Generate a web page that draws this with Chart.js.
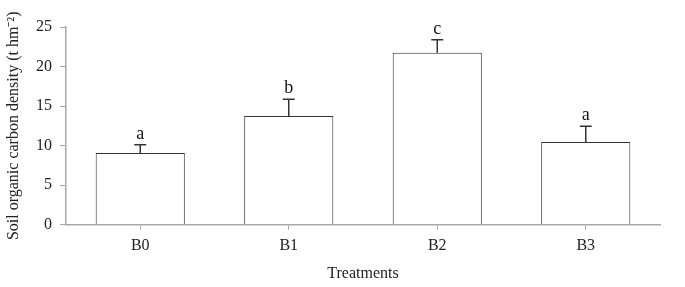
<!DOCTYPE html>
<html>
<head>
<meta charset="utf-8">
<script src="https://cdn.jsdelivr.net/npm/chart.js@4"></script>
<style>
  html, body { margin: 0; padding: 0; background: #fff; }
  #wrap { width: 685px; height: 287px; }
</style>
</head>
<body>
<div id="wrap"><canvas id="c"></canvas></div>
<script>
const treatments = ['B0', 'B1', 'B2', 'B3'];
const density = [9.05, 13.75, 21.75, 10.45];
const errors = [1.05, 2.1, 1.65, 2.0];
const letters = ['a', 'b', 'c', 'a'];

const serif = '"Liberation Serif", "Times New Roman", serif';
const ink = '#222';
const axisGrey = '#a8a8a8';

// upper error bars with significance letters on top
const errorBars = {
  id: 'errorBars',
  afterDatasetsDraw(chart) {
    const {ctx} = chart;
    const y = chart.scales.y;
    const meta = chart.getDatasetMeta(0);
    ctx.save();
    ctx.strokeStyle = '#333';
    ctx.lineWidth = 1.5;
    meta.data.forEach((bar, i) => {
      const top = y.getPixelForValue(density[i] + errors[i]);
      ctx.beginPath();
      ctx.moveTo(bar.x, bar.y);
      ctx.lineTo(bar.x, top);
      ctx.moveTo(bar.x - 6, top);
      ctx.lineTo(bar.x + 6, top);
      ctx.stroke();
      ctx.fillStyle = '#111';
      ctx.font = '18px ' + serif;
      ctx.textAlign = 'center';
      ctx.textBaseline = 'alphabetic';
      ctx.fillText(letters[i], bar.x, top - 6);
    });
    ctx.restore();
  }
};

new Chart(document.getElementById('c'), {
  type: 'bar',
  data: {
    labels: treatments,
    datasets: [{
      data: density,
      backgroundColor: '#fff',
      borderColor: '#333',
      borderWidth: 1,
      barPercentage: 0.6,
      categoryPercentage: 1
    }]
  },
  plugins: [errorBars],
  options: {
    responsive: true,
    maintainAspectRatio: false,
    animation: false,
    layout: {
      padding: {left: 2, right: 25, top: 27, bottom: 4}
    },
    plugins: {
      legend: false,
      tooltip: {enabled: false}
    },
    scales: {
      x: {
        offset: true,
        grid: {
          offset: false,
          drawOnChartArea: false,
          drawTicks: true,
          tickLength: 5,
          color: axisGrey
        },
        border: {color: axisGrey, width: 1.5},
        ticks: {color: ink, padding: 7, font: {family: serif, size: 16}},
        title: {
          display: true,
          text: 'Treatments',
          color: ink,
          padding: {top: 1, bottom: 0},
          font: {family: serif, size: 16}
        }
      },
      y: {
        min: 0,
        max: 25,
        afterFit(scale) { scale.width = 64; },
        grid: {
          drawOnChartArea: false,
          drawTicks: true,
          tickLength: 6,
          color: axisGrey
        },
        border: {color: axisGrey, width: 1.5},
        ticks: {stepSize: 5, color: ink, padding: 8, font: {family: serif, size: 16}},
        title: {
          display: true,
          text: 'Soil organic carbon density (t hm⁻²)',
          color: ink,
          padding: {top: 2, bottom: 4},
          font: {family: serif, size: 16}
        }
      }
    }
  }
});
</script>
</body>
</html>
